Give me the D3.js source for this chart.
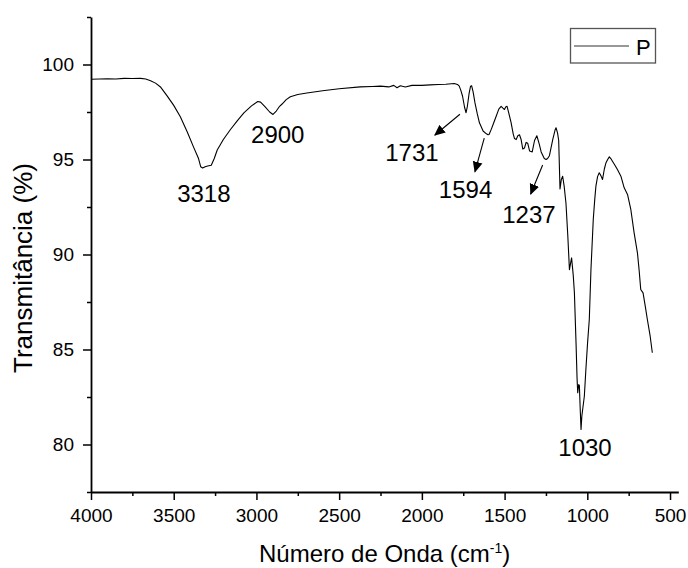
<!DOCTYPE html>
<html>
<head>
<meta charset="utf-8">
<script src="https://cdn.jsdelivr.net/npm/d3@7"></script>
<style>
  html, body { margin: 0; padding: 0; background: #fff; }
  svg { display: block; font-family: "Liberation Sans", Arial, sans-serif; }
</style>
</head>
<body>
<svg id="chart" width="688" height="568"></svg>
<script>
// FTIR spectrum of sample P: wavenumber (cm-1) vs transmittance (%)
const wavenumbers = [
  4000, 3950, 3900, 3850, 3800, 3750, 3700, 3669, 3640, 3610, 3578, 3540, 3500, 3460, 3418, 3380,
  3350, 3337, 3325, 3310, 3295, 3273, 3255, 3237, 3200, 3157, 3115, 3076, 3030, 2992, 2975, 2950,
  2920, 2900, 2880, 2860, 2845, 2820, 2795, 2750, 2695, 2600, 2500, 2373, 2300, 2250, 2200, 2170,
  2150, 2130, 2100, 2060, 2000, 1950, 1900, 1855, 1804, 1785, 1774, 1765, 1754, 1742, 1733, 1725,
  1715, 1706, 1699, 1690, 1679, 1665, 1652, 1630, 1610, 1600, 1594, 1580, 1565, 1552, 1535, 1521,
  1510, 1501, 1492, 1485, 1475, 1461, 1448, 1440, 1430, 1420, 1410, 1400, 1390, 1380, 1370, 1360,
  1349, 1333, 1319, 1305, 1290, 1279, 1260, 1249, 1240, 1229, 1209, 1195, 1189, 1180, 1173, 1165,
  1157, 1149, 1140, 1129, 1118, 1108, 1101, 1095, 1085, 1078, 1068, 1062, 1058, 1052, 1048, 1043,
  1038, 1033, 1018, 1008, 998, 988, 978, 964, 955, 948, 938, 928, 918, 908, 897, 887,
  877, 867, 858, 848, 833, 818, 797, 777, 757, 737, 717, 697, 687, 677, 663, 650,
  637, 620, 607
];
const transmittance = [
  99.22, 99.24, 99.25, 99.24, 99.27, 99.26, 99.27, 99.24, 99.15, 99.02, 98.80, 98.35, 97.85, 97.25, 96.45, 95.65,
  95.05, 94.62, 94.55, 94.62, 94.66, 94.70, 95.05, 95.50, 96.05, 96.58, 97.05, 97.45, 97.82, 98.05, 98.02, 97.80,
  97.50, 97.37, 97.55, 97.80, 97.92, 98.15, 98.30, 98.42, 98.50, 98.62, 98.72, 98.82, 98.84, 98.86, 98.82, 98.90,
  98.78, 98.88, 98.82, 98.90, 98.90, 98.93, 98.95, 98.96, 99.00, 98.95, 98.86, 98.65, 98.33, 97.75, 97.46, 97.80,
  98.45, 98.85, 98.88, 98.55, 97.98, 97.40, 96.93, 96.50, 96.35, 96.30, 96.32, 96.60, 96.95, 97.25, 97.65, 97.80,
  97.70, 97.63, 97.78, 97.80, 97.45, 96.95, 96.35, 96.10, 96.05, 96.25, 96.30, 96.05, 95.55, 95.60, 95.90, 95.85,
  95.45, 95.40, 96.00, 96.25, 95.80, 95.40, 95.05, 95.00, 95.05, 95.20, 96.05, 96.55, 96.67, 96.40, 96.00, 93.45,
  93.95, 94.12, 93.60, 92.70, 91.00, 89.20, 89.55, 89.82, 88.90, 87.98, 85.30, 83.50, 82.72, 83.16, 83.10, 81.90,
  80.79, 81.50, 82.54, 84.04, 85.40, 86.58, 89.20, 91.84, 92.90, 93.60, 94.10, 94.30, 94.15, 93.95, 94.50, 94.83,
  95.00, 95.14, 95.05, 94.91, 94.70, 94.47, 94.12, 93.51, 93.16, 92.37, 91.14, 90.09, 89.20, 88.16, 87.98, 87.30,
  86.58, 85.70, 84.83
];

// Axis ticks
const xMajorTicks = [4000, 3500, 3000, 2500, 2000, 1500, 1000, 500];
const xMinorTicks = [3750, 3250, 2750, 2250, 1750, 1250, 750];
const yMajorTicks = [80, 85, 90, 95, 100];
const yMinorTicks = [77.5, 82.5, 87.5, 92.5, 97.5, 102.5];

// Band annotations: label, label anchor (wavenumber, T), optional arrow from/to
const peakLabels = ["3318", "2900", "1731", "1594", "1237", "1030"];
const labelWavenumber = [3318, 2871, 2060, 1736, 1353, 1014];
const labelT = [92.76, 95.88, 94.92, 92.97, 91.66, 79.41];
const arrowFrom = [null, null, [1770, 97.38], [1623, 96.12], [1270, 94.71], null];
const arrowTo = [null, null, [1921, 96.29], [1679, 94.36], [1342, 93.18], null];

const seriesName = "P";

const svg = d3.select("#chart");
const plotLeft = 91, plotRight = 678.3, plotTop = 17, plotBottom = 492;

const x = d3.scaleLinear().domain([4000, 450]).range([plotLeft, plotRight]);
const y = d3.scaleLinear().domain([77.5, 102.5]).range([plotBottom, plotTop]);

svg.append("defs").append("marker")
  .attr("id", "arrowhead")
  .attr("viewBox", "0 0 10 10")
  .attr("refX", 9).attr("refY", 5)
  .attr("markerWidth", 11).attr("markerHeight", 11)
  .attr("markerUnits", "userSpaceOnUse")
  .attr("orient", "auto")
  .append("path").attr("d", "M0,0.5 L10,5 L0,9.5 Z").attr("fill", "#000");

// Spectrum
const pts = wavenumbers.map((w, i) => [w, transmittance[i]]);
svg.append("path")
  .datum(pts)
  .attr("fill", "none")
  .attr("stroke", "#000")
  .attr("stroke-width", 1.1)
  .attr("stroke-linejoin", "round")
  .attr("d", d3.line().x(d => x(d[0])).y(d => y(d[1])));

// Axes
const axisStyle = g => {
  g.select(".domain").attr("stroke", "#000").attr("stroke-width", 1.8);
  g.selectAll(".tick line").attr("stroke", "#000").attr("stroke-width", 1.5);
  g.selectAll(".tick text").attr("fill", "#000").style("font-size", "19px")
    .style("font-family", "'Liberation Sans', Arial, sans-serif");
};

const xAxis = svg.append("g").attr("transform", `translate(0,${plotBottom})`)
  .call(d3.axisBottom(x).tickValues(xMajorTicks).tickFormat(d3.format("d"))
    .tickSizeInner(8).tickSizeOuter(0).tickPadding(9));
axisStyle(xAxis);
svg.append("g").attr("transform", `translate(0,${plotBottom})`)
  .call(d3.axisBottom(x).tickValues(xMinorTicks).tickFormat("").tickSizeInner(4).tickSizeOuter(0))
  .call(g => { g.select(".domain").remove(); g.selectAll("line").attr("stroke", "#000").attr("stroke-width", 1.5); });

const yAxis = svg.append("g").attr("transform", `translate(${plotLeft},0)`)
  .call(d3.axisLeft(y).tickValues(yMajorTicks).tickFormat(d3.format("d"))
    .tickSizeInner(8).tickSizeOuter(0).tickPadding(9));
axisStyle(yAxis);
svg.append("g").attr("transform", `translate(${plotLeft},0)`)
  .call(d3.axisLeft(y).tickValues(yMinorTicks).tickFormat("").tickSizeInner(4).tickSizeOuter(0))
  .call(g => { g.select(".domain").remove(); g.selectAll("line").attr("stroke", "#000").attr("stroke-width", 1.5); });

// Axis titles
const xTitle = svg.append("text")
  .attr("x", (plotLeft + plotRight) / 2).attr("y", 562)
  .attr("text-anchor", "middle").style("font-size", "24px").attr("fill", "#000");
xTitle.append("tspan").text("Número de Onda (cm");
xTitle.append("tspan").attr("dy", -9).style("font-size", "14px").text("-1");
xTitle.append("tspan").attr("dy", 9).text(")");

svg.append("text")
  .attr("transform", `translate(32,268) rotate(-90)`)
  .attr("text-anchor", "middle").style("font-size", "26px").attr("fill", "#000")
  .text("Transmitância (%)");

// Band labels and arrows
peakLabels.forEach((lab, i) => {
  svg.append("text")
    .attr("x", x(labelWavenumber[i])).attr("y", y(labelT[i]))
    .attr("text-anchor", "middle").style("font-size", "24px").attr("fill", "#000")
    .text(lab);
  if (arrowFrom[i]) {
    svg.append("line")
      .attr("x1", x(arrowFrom[i][0])).attr("y1", y(arrowFrom[i][1]))
      .attr("x2", x(arrowTo[i][0])).attr("y2", y(arrowTo[i][1]))
      .attr("stroke", "#000").attr("stroke-width", 1.1)
      .attr("marker-end", "url(#arrowhead)");
  }
});

// Legend
const lg = svg.append("g");
lg.append("rect").attr("x", 570.5).attr("y", 28.5).attr("width", 85).attr("height", 34.5)
  .attr("fill", "#fff").attr("stroke", "#555").attr("stroke-width", 1.3);
lg.append("line").attr("x1", 574).attr("x2", 629).attr("y1", 46).attr("y2", 46)
  .attr("stroke", "#333").attr("stroke-width", 1.2);
lg.append("text").attr("x", 636).attr("y", 55).style("font-size", "22px").attr("fill", "#000")
  .text(seriesName);
</script>
</body>
</html>
